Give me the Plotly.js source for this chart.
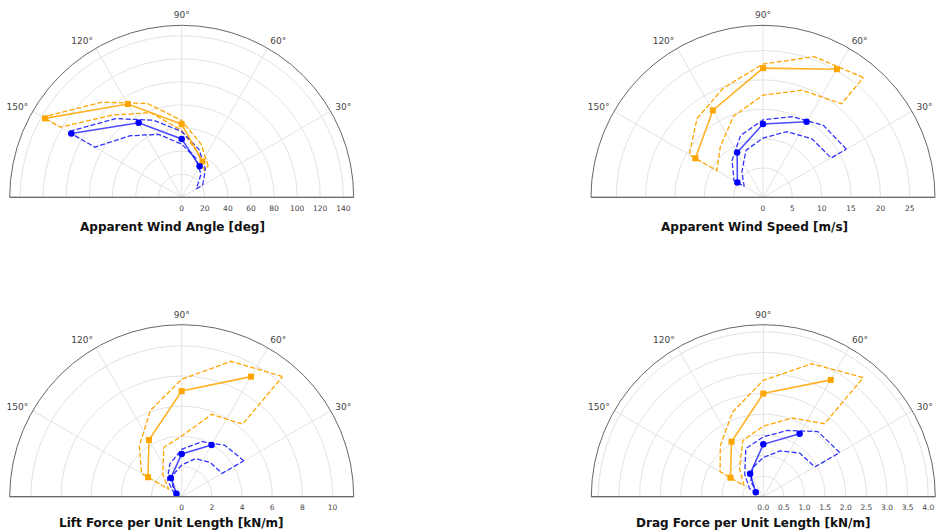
<!DOCTYPE html>
<html>
<head>
<meta charset="utf-8">
<script src="https://cdn.plot.ly/plotly-3.0.1.min.js"></script>
<style>html,body{margin:0;padding:0;background:#fff;}#chart{width:938px;height:532px;}</style>
</head>
<body>
<div id="chart"></div>
<script>
// ---- data ----
const meanTheta = [60, 90, 120, 150];
const bandThetaOrange = [50, 70, 90, 110, 130, 150];
const bandThetaBlue = [30, 50, 70, 90, 110, 130, 150];

const titles = ["Apparent Wind Angle [deg]", "Apparent Wind Speed [m/s]",
                "Lift Force per Unit Length [kN/m]", "Drag Force per Unit Length [kN/m]"];

// Apparent wind angle
const awaOrangeMean  = [35.9, 63.3, 93.3, 136.7];
const awaOrangeUpper = [35.7, 49, 66.5, 86.5, 107.5, 139];
const awaOrangeLower = [30.5, 41, 58, 78, 93, 121.5];
const awaBlueMean    = [31.0, 50.6, 74.6, 110.4];
const awaBlueUpper   = [21, 32, 44, 57, 71, 89, 113.6];
const awaBlueLower   = [14.7, 26, 36, 46, 58, 69.6, 86.8];

// Apparent wind speed
const awsOrangeMean  = [25.2, 22.0, 17.1, 13.3];
const awsOrangeUpper = [26.6, 25.5, 22.7, 19.8, 17.5, 14.5];
const awsOrangeLower = [20.8, 19.4, 17.4, 14.7, 11.3, 9.1];
const awsBlueMean    = [14.85, 12.5, 8.8, 5.04];
const awsBlueUpper   = [16.4, 16.0, 14.6, 13.2, 11.2, 8.2, 5.7];
const awsBlueLower   = [13.4, 13.0, 11.9, 10.1, 8.5, 5.6, 3.7];

// Lift force per unit length
const liftOrangeMean  = [9.19, 7.0, 4.34, 2.58];
const liftOrangeUpper = [10.4, 9.55, 7.78, 6.08, 4.37, 3.07];
const liftOrangeLower = [6.28, 5.81, 4.02, 3.47, 1.96, 1.0];
const liftBlueMean    = [3.96, 2.83, 1.44, 0.4];
const liftBlueUpper   = [4.76, 4.45, 3.88, 3.14, 2.3, 1.47, 0.64];
const liftBlueLower   = [3.09, 2.95, 2.69, 2.1, 1.58, 0.93, 0.33];

// Drag force per unit length
const dragOrangeMean  = [3.27, 2.5, 1.54, 0.92];
const dragOrangeUpper = [3.77, 3.43, 2.82, 2.18, 1.62, 1.21];
const dragOrangeLower = [2.31, 2.03, 1.71, 1.45, 0.9, 0.54];
const dragBlueMean    = [1.76, 1.27, 0.64, 0.21];
const dragBlueUpper   = [2.14, 2.06, 1.71, 1.45, 1.24, 0.70, 0.38];
const dragBlueLower   = [1.44, 1.38, 1.18, 0.95, 0.75, 0.47, 0.14];

const radialMax = [149, 29.3, 11.4, 4.17];
const radialTicks = [
  [0, 20, 40, 60, 80, 100, 120, 140],
  [0, 5, 10, 15, 20, 25],
  [0, 2, 4, 6, 8, 10],
  [0, 0.5, 1, 1.5, 2, 2.5, 3, 3.5, 4]
];
const radialTickText = [
  ["0", "20", "40", "60", "80", "100", "120", "140"],
  ["0", "5", "10", "15", "20", "25"],
  ["0", "2", "4", "6", "8", "10"],
  ["0.0", "0.5", "1.0", "1.5", "2.0", "2.5", "3.0", "3.5", "4.0"]
];
const angTicks = [30, 60, 90, 120, 150];
const angTickText = ["30°", "60°", "90°", "120°", "150°"];

const datasets = [
  [awaOrangeMean, awaOrangeUpper, awaOrangeLower, awaBlueMean, awaBlueUpper, awaBlueLower],
  [awsOrangeMean, awsOrangeUpper, awsOrangeLower, awsBlueMean, awsBlueUpper, awsBlueLower],
  [liftOrangeMean, liftOrangeUpper, liftOrangeLower, liftBlueMean, liftBlueUpper, liftBlueLower],
  [dragOrangeMean, dragOrangeUpper, dragOrangeLower, dragBlueMean, dragBlueUpper, dragBlueLower]
];

// ---- layout geometry (pixels) ----
const W = 938, H = 532, R = 172;
const centers = [[181.7, 197.3], [763.0, 197.3], [181.7, 496.7], [763.3, 496.7]];
const titlePos = [[172, 226.5], [754, 226.5], [171, 523], [753, 523]];

const ORANGE = "#FFA500", BLUE = "#0000FF";

function envelope(theta, upper, lower) {
  const th = theta.concat(theta.slice().reverse(), [theta[0]]);
  const r = upper.concat(lower.slice().reverse(), [upper[0]]);
  return {theta: th, r: r};
}

const traces = [];
const layout = {
  width: W, height: H,
  margin: {l: 0, r: 0, t: 0, b: 0},
  paper_bgcolor: "#fff",
  showlegend: false,
  font: {family: "DejaVu Sans", color: "#333"},
  shapes: [],
  annotations: []
};

datasets.forEach((d, i) => {
  const sp = i === 0 ? "polar" : "polar" + (i + 1);
  const [oM, oU, oL, bM, bU, bL] = d;
  const eo = envelope(bandThetaOrange, oU, oL);
  const eb = envelope(bandThetaBlue, bU, bL);
  traces.push({type: "scatterpolar", subplot: sp, mode: "lines", theta: eo.theta, r: eo.r,
    line: {color: ORANGE, width: 1.3, dash: "5px,2.2px"}, hoverinfo: "skip"});
  traces.push({type: "scatterpolar", subplot: sp, mode: "lines", theta: eb.theta, r: eb.r,
    line: {color: "rgba(0,0,255,0.8)", width: 1.3, dash: "5px,2.2px"}, hoverinfo: "skip"});
  traces.push({type: "scatterpolar", subplot: sp, mode: "lines+markers", theta: meanTheta, r: oM,
    line: {color: "rgba(255,165,0,0.85)", width: 1.6},
    marker: {symbol: "square", size: 6, color: ORANGE}});
  traces.push({type: "scatterpolar", subplot: sp, mode: "lines+markers", theta: meanTheta, r: bM,
    line: {color: "rgba(0,0,255,0.7)", width: 1.6},
    marker: {symbol: "circle", size: 6.5, color: BLUE}});

  const [cx, cy] = centers[i];
  const x0 = (cx - R) / W, x1 = (cx + R) / W;
  const y0 = 1 - cy / H, y1 = 1 - (cy - R) / H;
  layout[sp] = {
    domain: {x: [x0, x1], y: [y0, y1]},
    sector: [0, 180],
    bgcolor: "#fff",
    radialaxis: {
      range: [0, radialMax[i]], tickvals: radialTicks[i], ticktext: radialTickText[i],
      angle: 0, side: "clockwise", showline: false,
      ticks: "outside", ticklen: 4, tickcolor: "rgba(0,0,0,0)",
      gridcolor: "#e3e3e3", gridwidth: 1,
      tickfont: {size: 7.5, color: "#444", family: "DejaVu Sans"}
    },
    angularaxis: {
      tickvals: angTicks, ticktext: angTickText, direction: "counterclockwise", rotation: 0,
      showline: true, linecolor: "#666", linewidth: 1,
      ticks: "outside", ticklen: 3, tickcolor: "rgba(0,0,0,0)",
      gridcolor: "#e3e3e3", gridwidth: 1,
      tickfont: {size: 9, color: "#444", family: "DejaVu Sans"}
    }
  };
  layout.shapes.push({type: "line", xref: "paper", yref: "paper", x0: x0, x1: x1, y0: y0, y1: y0,
    line: {color: "#666", width: 1}});
  layout.annotations.push({
    text: "<b>" + titles[i] + "</b>", xref: "paper", yref: "paper",
    x: titlePos[i][0] / W, y: 1 - titlePos[i][1] / H, xanchor: "center", yanchor: "middle",
    showarrow: false, font: {size: 12, color: "#111", family: "DejaVu Sans"}
  });
});

Plotly.newPlot("chart", traces, layout, {staticPlot: true, displayModeBar: false});
</script>
</body>
</html>
